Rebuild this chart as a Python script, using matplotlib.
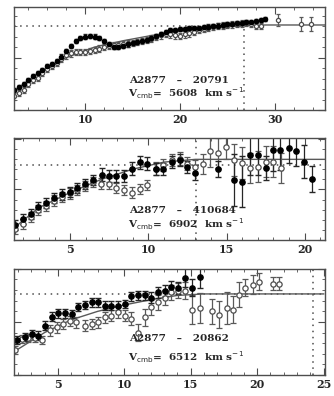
import numpy as np
import matplotlib
matplotlib.use("Agg")
import matplotlib.pyplot as plt
from matplotlib.ticker import MultipleLocator, NullFormatter

plt.rcParams['font.family'] = ['DejaVu Serif']

# ---- panel 1 : A2877 - 20791 ------------------------------------------------
p1_fill_r = [2.5, 3.0, 3.5, 4.0, 4.5, 5.0, 5.5, 6.0, 6.5, 7.0, 7.5, 8.0, 8.5, 9.0, 9.5,
             10.0, 10.5, 11.0, 11.5, 12.0, 12.5, 13.0, 13.5, 14.0, 14.5, 15.0, 15.5, 16.0,
             16.5, 17.0, 17.5, 18.0, 18.5, 19.0, 19.5, 20.0, 20.5, 21.0, 21.5, 22.0, 22.5,
             23.0, 23.5, 24.0, 24.5, 25.0, 25.5, 26.0, 26.5, 27.0, 27.5, 28.0, 28.5, 29.0]
p1_fill_v = [19, 22, 25, 29, 32, 35, 38.5, 42, 44, 47, 51, 56, 61, 66, 68.5,
             70, 70.5, 70, 68.5, 66, 63, 60.5, 60, 61, 62.5, 63.5, 64.5, 66,
             67, 68.5, 70.5, 72.5, 74.5, 76, 76.5, 77, 77.5, 78, 78, 78.5, 79,
             79.5, 80, 80.5, 81, 81.5, 82, 82.5, 83, 83.5, 84, 84.5, 85.5, 87]
p1_open_r = [2.5, 3.0, 3.5, 4.0, 4.5, 5.0, 5.5, 6.0, 6.5, 7.0, 7.5, 8.0, 8.5, 9.0, 9.5,
             10.0, 10.5, 11.0, 11.5, 12.0, 12.5, 13.0, 13.5, 14.0, 14.5, 15.0, 15.5, 16.0,
             16.5, 17.0, 17.5, 18.0, 18.5, 19.0, 19.5, 20.0, 20.5, 21.0, 21.5, 22.0, 22.5,
             23.0, 23.5, 24.0, 24.5, 25.0, 25.5, 26.0, 26.5, 27.0, 27.5, 28.0, 28.5,
             30.3, 32.8, 33.8]
p1_open_v = [13, 16, 19, 25, 28.5, 31, 35, 39, 42, 45, 48.5, 52, 54, 55.5, 55.5,
             55.5, 56, 57, 58.5, 60, 61, 61.5, 62, 63, 63.5, 64, 65, 66,
             67, 68, 69.5, 71, 72.5, 72, 71, 70.5, 72, 73, 74.5, 76, 77.5,
             78, 79, 80, 80.5, 81, 81.5, 82, 82.5, 83, 82, 80, 80,
             85.7, 82, 82]
p1_open_e = [3] * 53 + [6, 7, 7]
p1_model_r = [2.5, 5, 8, 11, 14, 17, 20, 23, 26, 29, 35.3]
p1_model_v = [18, 35, 50, 60, 66, 71, 75, 78, 80, 81, 81]

# ---- panel 2 : A2877 - 410684 -----------------------------------------------
p2_fill_r = [1.46, 1.95, 2.46, 2.95, 3.44, 3.95, 4.44, 4.97, 5.45, 5.94, 6.43, 7.0,
             7.45, 7.93, 8.43, 8.98, 9.45, 9.94, 10.47, 10.95, 11.48, 12.0, 12.45,
             12.95, 14.45, 15.5, 16.0, 16.47, 17.0, 17.5, 18.0, 18.45, 19.0, 19.45,
             19.95, 20.47]
p2_fill_v = [14.5, 20.5, 26, 33, 36.6, 41.6, 45, 47.5, 51.5, 55, 59, 64.7,
             63.4, 63.4, 63.4, 70.6, 76.6, 75.6, 70, 70, 77, 79, 72,
             66.7, 70, 59.4, 57.8, 84, 84, 71, 88.5, 89, 91.4, 88,
             77.5, 60.4]
p2_fill_e = [5, 5, 5, 5, 5, 5, 5, 5, 5, 5, 5, 6,
             6, 6, 6, 6, 6, 6, 6, 6, 6, 6, 6,
             7, 8, 26, 25, 20, 20, 12, 20, 20, 15, 15,
             16, 13]
p2_open_r = [1.46, 1.95, 2.46, 2.95, 3.44, 3.95, 4.44, 4.97, 5.45, 5.94, 6.43, 6.94,
             7.45, 7.93, 8.43, 8.98, 9.45, 9.94, 10.47, 10.95, 11.48, 12.0, 12.48,
             12.97, 13.5, 13.96, 14.45, 14.97, 15.5, 16.0, 16.47, 17.0, 17.5, 18.0, 18.5]
p2_open_v = [11, 16, 22.8, 30, 34, 39, 42.6, 46, 49, 53.5, 57.4, 55.8,
             55.8, 51.5, 49, 46.9, 50, 54, 70.6, 74, 79, 80.5, 75.6,
             72.3, 75, 87.5, 86, 92, 79, 76, 71, 72.6, 77.5, 77.5, 71]
p2_open_e = [5, 5, 5, 5, 5, 5, 5, 5, 5, 5, 5, 5,
             5, 5, 5, 5, 5, 5, 6, 6, 6, 6, 6,
             7, 10, 15, 15, 12, 16, 16, 15, 15, 15, 15, 15]
p2_model_r = [1.4, 3, 5, 7, 9, 11, 13, 21.3]
p2_model_v = [12, 32, 47, 60, 70, 77, 79.7, 79.7]

# ---- panel 3 : A2877 - 20862 ------------------------------------------------
p3_fill_r = [1.95, 2.52, 3.03, 3.53, 4.03, 4.53, 5.03, 5.53, 6.03, 6.53, 7.03, 7.53,
             8.03, 8.53, 9.03, 9.53, 10.03, 10.53, 11.03, 11.53, 12.03, 12.53, 13.04,
             13.54, 14.04, 14.56, 15.1, 15.7]
p3_fill_v = [33, 36, 38.7, 37, 46.5, 55, 58, 58, 57.5, 64, 66, 68.5,
             68.5, 65.4, 65.4, 65.4, 67, 74, 75, 75, 73, 78, 79.6,
             83, 82, 91.5, 82, 92]
p3_fill_e = [4] * 20 + [5, 5, 5, 6, 6, 9, 8, 10]
p3_open_r = [1.78, 2.28, 2.78, 3.28, 3.78, 4.4, 4.9, 5.4, 5.9, 6.4, 7.03, 7.53,
             8.03, 8.53, 9.03, 9.53, 10.03, 10.53, 11.03, 11.53, 12.03, 12.53, 13.04,
             13.54, 14.04, 14.54, 15.1, 15.7, 16.6, 17.1, 17.7, 18.2, 18.65, 19.1,
             19.65, 20.15, 21.2, 21.65]
p3_open_v = [23.6, 34, 35, 35, 33, 42, 45, 48, 51, 49.7, 46.5, 48,
             49.7, 54.4, 56, 59, 56, 53, 40, 54.4, 64, 68.5, 73,
             78, 79.6, 79.6, 61.6, 63, 60, 57, 63, 61.6, 75.8, 82,
             85, 87.7, 86, 86]
p3_open_e = [4, 4, 4, 4, 4, 5, 5, 5, 5, 5, 5, 5,
             5, 5, 5, 5, 5, 6, 8, 8, 7, 7, 7,
             7, 7, 8, 14, 14, 12, 13, 15, 13, 12, 8,
             9, 8, 6, 6]
p3_model_r = [1.7, 4, 6, 8, 10, 12, 14, 16, 25]
p3_model_v = [22, 40, 52, 60, 66, 71, 75, 76.4, 76.4]

panels = [
    dict(rect=[0.042, 0.722, 0.931, 0.260], xlim=(2.5, 35.3), ylim=(0, 98),
         major=10, minor=2, ms=3.0, cap=1.5,
         fr=p1_fill_r, fv=p1_fill_v, fe=[2] * len(p1_fill_r),
         orr=p1_open_r, ov=p1_open_v, oe=p1_open_e,
         mr=p1_model_r, mv=p1_model_v,
         vline=26.8, hline=80, partial=True, ty=(0.29, 0.16),
         name='A2877   \u2013   20791', vcmb='5608'),
    dict(rect=[0.042, 0.394, 0.931, 0.258], xlim=(1.4, 21.3), ylim=(0, 101),
         major=5, minor=1, ms=3.8, cap=2.5,
         fr=p2_fill_r, fv=p2_fill_v, fe=p2_fill_e,
         orr=p2_open_r, ov=p2_open_v, oe=p2_open_e,
         mr=p2_model_r, mv=p2_model_v,
         vline=13.05, hline=74, partial=False, ty=(0.29, 0.15),
         name='A2877   \u2013   410684', vcmb='6902'),
    dict(rect=[0.042, 0.053, 0.931, 0.268], xlim=(1.7, 25.1), ylim=(0, 100),
         major=5, minor=1, ms=3.8, cap=2.5,
         fr=p3_fill_r, fv=p3_fill_v, fe=p3_fill_e,
         orr=p3_open_r, ov=p3_open_v, oe=p3_open_e,
         mr=p3_model_r, mv=p3_model_v,
         vline=24.2, hline=76.4, partial=False, ty=(0.34, 0.17),
         name='A2877   \u2013   20862', vcmb='6512'),
]

fig = plt.figure(figsize=(3.34, 3.96), dpi=100)

for p in panels:
    ax = fig.add_axes(p['rect'])
    ax.set_xlim(*p['xlim'])
    ax.set_ylim(*p['ylim'])

    # dotted reference lines
    dot = dict(ls=(0, (1, 3)), color='0.3', lw=1.1)
    if p['partial']:
        ax.plot([p['xlim'][0], p['vline']], [p['hline'], p['hline']], **dot)
        ax.plot([p['vline'], p['vline']], [p['ylim'][0], p['hline']], **dot)
    else:
        ax.axhline(p['hline'], **dot)
        ax.axvline(p['vline'], **dot)

    ax.plot(p['mr'], p['mv'], color='0.35', lw=1.0)

    ax.errorbar(p['orr'], p['ov'], yerr=p['oe'], fmt='o', ms=p['ms'], mfc='white',
                mec='0.3', mew=0.9, ecolor='0.35', elinewidth=0.9, capsize=p['cap'])
    ax.errorbar(p['fr'], p['fv'], yerr=p['fe'], fmt='o', ms=p['ms'], mfc='black',
                mec='black', ecolor='0.15', elinewidth=0.9, capsize=p['cap'])

    ax.text(0.37, p['ty'][0], p['name'], transform=ax.transAxes, fontsize=7.5,
            fontweight='bold', color='0.15', ha='left', va='center')
    ax.text(0.365, p['ty'][1], r'V$_{\rm cmb}$=  ' + p['vcmb'] + r'  km s$^{-1}$',
            transform=ax.transAxes, fontsize=7.5, fontweight='bold', color='0.15',
            ha='left', va='center')

    ax.xaxis.set_major_locator(MultipleLocator(p['major']))
    ax.xaxis.set_minor_locator(MultipleLocator(p['minor']))
    ax.yaxis.set_major_locator(MultipleLocator(50))
    ax.yaxis.set_minor_locator(MultipleLocator(10))
    ax.yaxis.set_major_formatter(NullFormatter())
    ax.tick_params(which='both', direction='in', top=True, right=True, left=True,
                   labelsize=8, pad=3, color='0.3', labelcolor='0.15')
    ax.tick_params(which='major', length=5)
    ax.tick_params(which='minor', length=2.5)
    for lab in ax.get_xticklabels():
        lab.set_fontweight('bold')
    for s in ax.spines.values():
        s.set_color('0.3')
        s.set_linewidth(1.0)

fig.savefig('out.png', dpi=100)
